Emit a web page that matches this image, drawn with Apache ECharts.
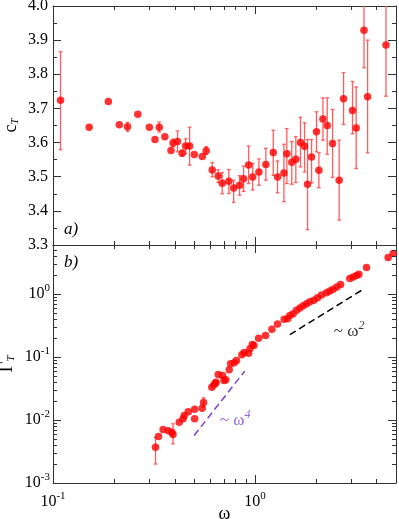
<!DOCTYPE html>
<html><head><meta charset="utf-8">
<script src="https://cdn.jsdelivr.net/npm/echarts@6/dist/echarts.min.js"></script>
<style>html,body{margin:0;padding:0;background:#fff}#c{width:399px;height:519px}</style>
</head><body><div id="c"></div>
<script>
// ---- panel a) : c_T vs omega ----
const cOmega = [0.109,0.151,0.188,0.213,0.234,0.263,0.300,0.320,0.336,0.358,0.384,0.393,0.414,0.436,0.454,0.475,0.501,0.549,0.574,0.615,0.658,0.689,0.743,0.785,0.840,0.879,0.931,0.975,1.047,1.133,1.233,1.295,1.393,1.44,1.523,1.595,1.682,1.762,1.823,1.908,2.019,2.075,2.173,2.282,2.426,2.614,2.749,3.046,3.175,3.47,3.616,4.46];
const cValue = [3.724,3.645,3.720,3.652,3.646,3.683,3.645,3.609,3.645,3.617,3.577,3.599,3.603,3.569,3.590,3.590,3.565,3.559,3.576,3.520,3.502,3.481,3.487,3.467,3.475,3.494,3.534,3.499,3.514,3.536,3.571,3.499,3.511,3.567,3.542,3.551,3.600,3.589,3.478,3.558,3.632,3.519,3.669,3.650,3.597,3.490,3.728,3.694,3.643,3.929,3.734,3.886];
const cLow  = [3.579,null,null,null,3.633,null,null,null,3.631,null,null,3.588,3.573,3.561,3.568,3.534,null,null,3.565,3.500,3.483,3.450,3.451,3.425,3.446,3.457,3.480,3.461,3.475,3.490,3.504,3.453,3.427,3.480,3.478,3.483,3.529,3.514,3.345,3.482,3.573,3.468,3.607,3.566,3.498,3.373,3.653,3.626,3.524,3.819,3.570,3.736];
const cHigh = [3.866,null,null,null,3.659,null,null,null,3.660,null,null,3.610,3.634,3.578,3.611,3.645,null,null,3.588,3.541,3.520,3.512,3.521,3.490,3.503,3.531,3.590,3.539,3.552,3.583,3.636,3.546,3.595,3.641,3.603,3.617,3.674,3.658,3.609,3.609,3.690,3.570,3.731,3.731,3.697,3.607,3.805,3.779,3.763,4.05,3.900,4.05];

// ---- panel b) : Gamma_T vs omega ----
const gOmega = [0.322,0.333,0.351,0.372,0.388,0.393,0.422,0.441,0.447,0.468,0.503,0.503,0.548,0.557,0.612,0.627,0.638,0.641,0.658,0.692,0.703,0.718,0.746,0.758,0.790,0.811,0.862,0.885,0.931,0.945,0.971,0.989,1.043,1.129,1.214,1.295,1.396,1.452,1.489,1.548,1.608,1.671,1.735,1.803,1.872,1.960,2.043,2.138,2.264,2.350,2.442,2.547,2.657,2.952,3.068,3.187,3.273,3.573,4.57,4.84];
const gValue = [0.0037,0.00547,0.00706,0.00673,0.0064,0.00588,0.00923,0.01044,0.0118,0.0135,0.01485,0.01045,0.0154,0.019,0.0332,0.0363,0.0385,0.0399,0.0528,0.051,0.0424,0.0435,0.0628,0.078,0.081,0.0883,0.1086,0.118,0.115,0.1355,0.158,0.153,0.198,0.2205,0.275,0.333,0.396,0.406,0.458,0.488,0.551,0.600,0.653,0.703,0.757,0.794,0.876,0.966,1.052,1.116,1.188,1.29,1.41,1.757,1.862,1.96,2.06,2.63,3.79,4.39];
const gErrOmega = [0.322,0.393,0.557];
const gErrLow   = [0.0020,0.0042,0.016];
const gErrHigh  = [0.0053,0.0087,0.0225];

// guide lines ~omega^4 and ~omega^2 (end points)
const slope4X = [0.5, 0.89];
const slope4Y = [0.00567, 0.0597];
const slope2X = [1.49, 3.44];
const slope2Y = [0.226, 1.188];
const slope4Label = [0.671, 0.0098];
const slope2Label = [2.46, 0.255];

// axis ticks
const cTickMin = 3.3, cTickMax = 4.0, cTickStep = 0.1;
const omegaMin = 0.1, omegaMax = 5;
const gammaMin = 0.001, gammaMax = 6;
const omegaMinor = [0.2,0.3,0.4,0.5,0.6,0.7,0.8,0.9,2,3,4];
const gammaMinor = [0.002,0.003,0.004,0.005,0.006,0.007,0.008,0.009,0.02,0.03,0.04,0.05,0.06,0.07,0.08,0.09,0.2,0.3,0.4,0.5,0.6,0.7,0.8,0.9,2,3,4,5];

const FONT = 'Liberation Serif';
const AX = '#333';
const RED = '#ff0000';
const ERR = '#ff5c5c';
const PURPLE = '#7b3fcf';

const chart = echarts.init(document.getElementById('c'), null, {renderer:'canvas'});

function powLabel(v){
  const e = Math.round(Math.log10(v));
  if (Math.abs(Math.log10(v) - e) > 1e-6) return '';
  return '{b|10}{s|' + e + '}';
}
const powRich = {
  b:{fontFamily:FONT,fontSize:16,color:'#000',lineHeight:22},
  s:{fontFamily:FONT,fontSize:11,color:'#000',verticalAlign:'top'}
};

function logAxisX(grid, pos, labels){
  return {type:'log', gridIndex:grid, position:pos, min:omegaMin, max:omegaMax, logBase:10,
    axisLine:{show:true,lineStyle:{color:AX,width:1}},
    axisTick:{show:true,inside:true,length:8,lineStyle:{color:AX}},
    splitLine:{show:false},
    axisLabel:{show:labels, margin:8, formatter:powLabel, rich:powRich, fontFamily:FONT, showMinLabel:true, showMaxLabel:true},
    name: labels ? 'ω' : '', nameLocation:'middle', nameGap:22, nameMoveOverlap:false,
    nameTextStyle:{fontFamily:FONT,fontSize:18,color:'#000'}
  };
}
function cAxisY(pos, labels){
  return {type:'value', gridIndex:0, position:pos, min:cTickMin, max:cTickMax, interval:cTickStep,
    axisLine:{show:true,lineStyle:{color:AX}},
    axisTick:{show:true,inside:true,length:8,lineStyle:{color:AX}},
    minorTick:{show:true,splitNumber:2,length:4,lineStyle:{color:AX}},
    splitLine:{show:false},
    axisLabel:{show:labels, margin:5, formatter:v=>'{n|' + v.toFixed(1) + '}', rich:{n:{fontFamily:FONT,fontSize:16,color:'#000'}}, fontFamily:FONT, fontSize:16, color:'#000', showMinLabel:true, showMaxLabel:true},
    name: labels ? '{c|c}{t|T}' : '', nameLocation:'middle', nameGap:32, nameMoveOverlap:false,
    nameTextStyle:{fontFamily:FONT, rich:{c:{fontFamily:FONT,fontSize:18,color:'#000',lineHeight:20},t:{fontFamily:FONT,fontSize:11,fontStyle:'italic',color:'#000',verticalAlign:'bottom'}}}
  };
}
function gAxisY(pos, labels){
  return {type:'log', gridIndex:1, position:pos, min:gammaMin, max:gammaMax, logBase:10,
    axisLine:{show:true,lineStyle:{color:AX}},
    axisTick:{show:true,inside:true,length:8,lineStyle:{color:AX}},
    splitLine:{show:false},
    axisLabel:{show:labels, margin:3, formatter:powLabel, rich:powRich, fontFamily:FONT, showMinLabel:true, showMaxLabel:true},
    name: labels ? '{g|Γ}{t|T}' : '', nameLocation:'middle', nameGap:36, nameMoveOverlap:false,
    nameTextStyle:{fontFamily:FONT, rich:{g:{fontFamily:FONT,fontSize:19,color:'#000',lineHeight:20},t:{fontFamily:FONT,fontSize:11,fontStyle:'italic',color:'#000',verticalAlign:'bottom'}}}
  };
}

function errRender(params, api){
  const x = api.value(0), lo = api.value(1), hi = api.value(2);
  const cs = params.coordSys;
  const p1 = api.coord([x, lo]), p2 = api.coord([x, hi]);
  const top = Math.max(p2[1], cs.y), bot = Math.min(p1[1], cs.y + cs.height);
  const st = {stroke:ERR, lineWidth:1.3};
  const ch = [{type:'line', shape:{x1:p1[0],y1:top,x2:p1[0],y2:bot}, style:st}];
  if (p2[1] >= cs.y) ch.push({type:'line', shape:{x1:p1[0]-1.8,y1:p2[1],x2:p1[0]+1.8,y2:p2[1]}, style:st});
  if (p1[1] <= cs.y + cs.height) ch.push({type:'line', shape:{x1:p1[0]-1.8,y1:p1[1],x2:p1[0]+1.8,y2:p1[1]}, style:st});
  return {type:'group', children:ch};
}
function minorXRender(params, api){
  const cs = params.coordSys;
  const x = Math.round(api.coord([api.value(0), api.value(1)])[0]) + 0.5;
  const st = {stroke:AX, lineWidth:1};
  return {type:'group', children:[
    {type:'line', shape:{x1:x,y1:cs.y+cs.height,x2:x,y2:cs.y+cs.height-4}, style:st},
    {type:'line', shape:{x1:x,y1:cs.y,x2:x,y2:cs.y+4}, style:st}
  ]};
}
function minorYRender(params, api){
  const cs = params.coordSys;
  const y = Math.round(api.coord([api.value(0), api.value(1)])[1]) + 0.5;
  const st = {stroke:AX, lineWidth:1};
  return {type:'group', children:[
    {type:'line', shape:{x1:cs.x,y1:y,x2:cs.x+4,y2:y}, style:st},
    {type:'line', shape:{x1:cs.x+cs.width,y1:y,x2:cs.x+cs.width-4,y2:y}, style:st}
  ]};
}

const cErr = [];
cOmega.forEach((x,i)=>{ if (cLow[i] != null) cErr.push([x, cLow[i], cHigh[i]]); });
const gErr = gErrOmega.map((x,i)=>[x, gErrLow[i], gErrHigh[i]]);

const option = {
  animation:false,
  backgroundColor:'#fff',
  textStyle:{fontFamily:FONT},
  grid:[
    {left:53, right:3, top:6, height:239, outerBoundsMode:'none'},
    {left:53, right:3, top:245, height:238, outerBoundsMode:'none'}
  ],
  xAxis:[ logAxisX(0,'bottom',false), logAxisX(0,'top',false), logAxisX(1,'bottom',true), logAxisX(1,'top',false) ],
  yAxis:[ cAxisY('left',true), cAxisY('right',false), gAxisY('left',true), gAxisY('right',false) ],
  graphic:[
    {type:'text', left:64, top:221, style:{text:'a)', fontFamily:FONT, fontSize:17, fontStyle:'italic', fill:'#000'}},
    {type:'text', left:64, top:254, style:{text:'b)', fontFamily:FONT, fontSize:17, fontStyle:'italic', fill:'#000'}}
  ],
  series:[
    {type:'custom', xAxisIndex:0, yAxisIndex:0, renderItem:minorXRender, data:omegaMinor.map(v=>[v, cTickMin]), silent:true, z:5},
    {type:'custom', xAxisIndex:2, yAxisIndex:2, renderItem:minorXRender, data:omegaMinor.map(v=>[v, gammaMin]), silent:true, z:5},
    {type:'custom', xAxisIndex:2, yAxisIndex:2, renderItem:minorYRender, data:gammaMinor.map(v=>[omegaMin, v]), silent:true, z:5},
    {type:'custom', xAxisIndex:0, yAxisIndex:0, renderItem:errRender, data:cErr, encode:{x:0,y:[1,2]}, silent:true, z:2},
    {type:'custom', xAxisIndex:2, yAxisIndex:2, renderItem:errRender, data:gErr, encode:{x:0,y:[1,2]}, silent:true, z:2},
    {type:'scatter', xAxisIndex:0, yAxisIndex:0, data:cOmega.map((x,i)=>[x,cValue[i]]), symbol:'circle', symbolSize:7.5, itemStyle:{color:RED}, z:3},
    {type:'scatter', xAxisIndex:2, yAxisIndex:2, data:gOmega.map((x,i)=>[x,gValue[i]]), symbol:'circle', symbolSize:7.5, itemStyle:{color:RED}, z:3},
    {type:'line', xAxisIndex:2, yAxisIndex:2, data:slope4X.map((x,i)=>[x,slope4Y[i]]), symbol:'none', lineStyle:{color:PURPLE,width:1.5,type:[7,4]}, z:4},
    {type:'line', xAxisIndex:2, yAxisIndex:2, data:slope2X.map((x,i)=>[x,slope2Y[i]]), symbol:'none', lineStyle:{color:'#000',width:1.5,type:[7,4]}, z:4},
    {type:'scatter', xAxisIndex:2, yAxisIndex:2, data:[slope4Label], symbolSize:0, z:4,
      label:{show:true, position:'right', distance:0, formatter:'{a|~ ω}{s|4}',
        rich:{a:{fontFamily:FONT,fontSize:17,color:PURPLE,lineHeight:24},s:{fontFamily:FONT,fontSize:12,fontStyle:'italic',color:PURPLE,verticalAlign:'top'}}}},
    {type:'scatter', xAxisIndex:2, yAxisIndex:2, data:[slope2Label], symbolSize:0, z:4,
      label:{show:true, position:'right', distance:0, formatter:'{a|~ ω}{s|2}',
        rich:{a:{fontFamily:FONT,fontSize:17,color:'#000',lineHeight:24},s:{fontFamily:FONT,fontSize:12,fontStyle:'italic',color:'#000',verticalAlign:'top'}}}}
  ]
};
chart.setOption(option);
</script>
</body></html>
